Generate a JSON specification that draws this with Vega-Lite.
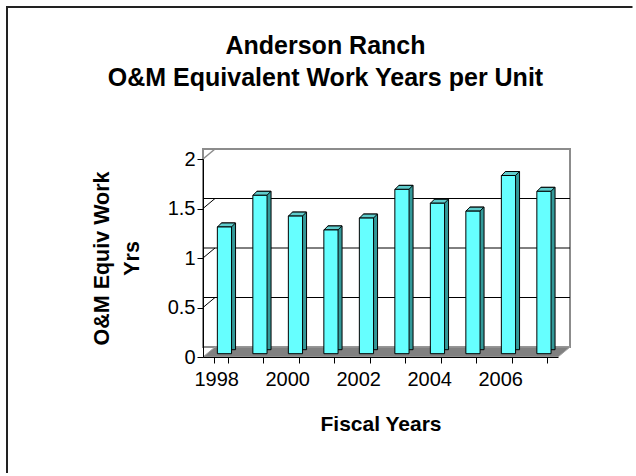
{
  "$schema": "https://vega.github.io/schema/vega-lite/v6.json",
  "width": 355,
  "height": 198,
  "autosize": {"type": "none"},
  "padding": {"left": 203, "top": 159, "right": 78, "bottom": 119},
  "background": "white",
  "config": {
    "view": {"stroke": null},
    "font": "Liberation Sans"
  },
  "title": {
    "text": ["Anderson Ranch", "O&M Equivalent Work Years per Unit"],
    "font": "Liberation Sans",
    "fontSize": 25,
    "fontWeight": "bold",
    "color": "black",
    "lineHeight": 31.6,
    "anchor": "middle",
    "frame": "group",
    "offset": 0,
    "dx": -55,
    "dy": 88
  },
  "datasets": {
    "units": [
      {"year": 1998, "value": 1.28},
      {"year": 1999, "value": 1.60},
      {"year": 2000, "value": 1.39},
      {"year": 2001, "value": 1.25},
      {"year": 2002, "value": 1.37},
      {"year": 2003, "value": 1.66},
      {"year": 2004, "value": 1.52},
      {"year": 2005, "value": 1.44},
      {"year": 2006, "value": 1.80},
      {"year": 2007, "value": 1.64}
    ],
    "grid": [{"value": 0.5}, {"value": 1}, {"value": 1.5}],
    "one": [{"value": 0}]
  },
  "layer": [
    {
      "data": {"name": "one"},
      "mark": {"type": "rect", "fill": "white", "stroke": "#8c8c8c", "strokeWidth": 2, "xOffset": 12, "x2Offset": 12, "yOffset": -10, "y2Offset": -10},
      "encoding": {
        "y": {"datum": 0, "type": "quantitative", "scale": {"domain": [0, 2], "nice": false},
          "axis": {
            "title": ["O&M Equiv Work", "Yrs"],
            "values": [0, 0.5, 1, 1.5, 2],
            "format": "~g",
            "grid": false,
            "labelFont": "Liberation Sans", "labelFontSize": 20, "labelColor": "black", "labelPadding": 2,
            "tickSize": 6, "tickColor": "black", "domainColor": "black",
            "titleFont": "Liberation Sans", "titleFontSize": 21.5, "titleFontWeight": "bold", "titleColor": "black",
            "titleLineHeight": 30, "titlePadding": 24, "zindex": 1
          }},
        "y2": {"datum": 2}
      }
    },
    {
      "data": {"name": "grid"},
      "mark": {"type": "rule", "color": "black", "strokeWidth": 1, "xOffset": 12, "x2Offset": 12, "yOffset": -10, "y2Offset": -10},
      "encoding": {"y": {"field": "value", "type": "quantitative"}}
    },
    {
      "data": {"name": "grid"},
      "mark": {"type": "point", "shape": "M -177.5 0 L -165.5 -10", "size": 4, "filled": false, "stroke": "black", "strokeWidth": 1, "opacity": 1},
      "encoding": {"y": {"field": "value", "type": "quantitative"}}
    },
    {
      "data": {"name": "one"},
      "mark": {"type": "point", "shape": "M -177.5 0 L -165.5 -10", "size": 4, "filled": false, "stroke": "#8c8c8c", "strokeWidth": 1.5, "opacity": 1},
      "encoding": {"y": {"datum": 2, "type": "quantitative"}}
    },
    {
      "data": {"name": "one"},
      "mark": {"type": "point", "shape": "M -177.5 0 L 177.5 0 L 189.5 -10 L -165.5 -10 Z", "size": 4, "filled": true, "fill": "#808080", "stroke": "#a0a0a0", "strokeWidth": 1, "opacity": 1},
      "encoding": {"y": {"field": "value", "type": "quantitative"}}
    },
    {
      "data": {"name": "one"},
      "mark": {"type": "point", "shape": "M -373.5 215 L -373.5 -251 L 252 -251", "size": 4, "filled": false, "stroke": "#222222", "strokeWidth": 2, "opacity": 1},
      "encoding": {}
    },
    {
      "data": {"name": "units"},
      "mark": {"type": "bar", "fill": "#339999", "stroke": "black", "strokeWidth": 1, "xOffset": 7.7, "yOffset": -7.3, "y2Offset": -7.3},
      "encoding": {
        "x": {"field": "year", "type": "ordinal", "scale": {"paddingInner": 0.6, "paddingOuter": 0.3}},
        "y": {"field": "value", "type": "quantitative"}
      }
    },
    {
      "data": {"name": "units"},
      "mark": {"type": "point", "shape": "M -7 0 L 7 0 L 11 -4 L -3 -4 Z", "size": 4, "filled": true, "fill": "#5fcccc", "stroke": "black", "strokeWidth": 1, "opacity": 1, "xOffset": 3.7, "yOffset": -3.3},
      "encoding": {
        "x": {"field": "year", "type": "ordinal"},
        "y": {"field": "value", "type": "quantitative"}
      }
    },
    {
      "data": {"name": "units"},
      "mark": {"type": "bar", "fill": "#66ffff", "stroke": "black", "strokeWidth": 1, "xOffset": 3.7, "yOffset": -3.3, "y2Offset": -3.3},
      "encoding": {
        "x": {"field": "year", "type": "ordinal",
          "axis": {
            "title": "Fiscal Years",
            "tickBand": "extent",
            "labelExpr": "datum.value % 2 == 0 ? datum.label : ''",
            "labelAngle": 0,
            "labelOffset": 17.75,
            "labelFont": "Liberation Sans", "labelFontSize": 20, "labelColor": "black", "labelPadding": 16,
            "tickSize": 6, "tickColor": "black", "domainColor": "black",
            "titleFont": "Liberation Sans", "titleFontSize": 21, "titleFontWeight": "bold", "titleColor": "black",
            "titlePadding": 24, "zindex": 1
          }},
        "y": {"field": "value", "type": "quantitative"}
      }
    }
  ]
}
